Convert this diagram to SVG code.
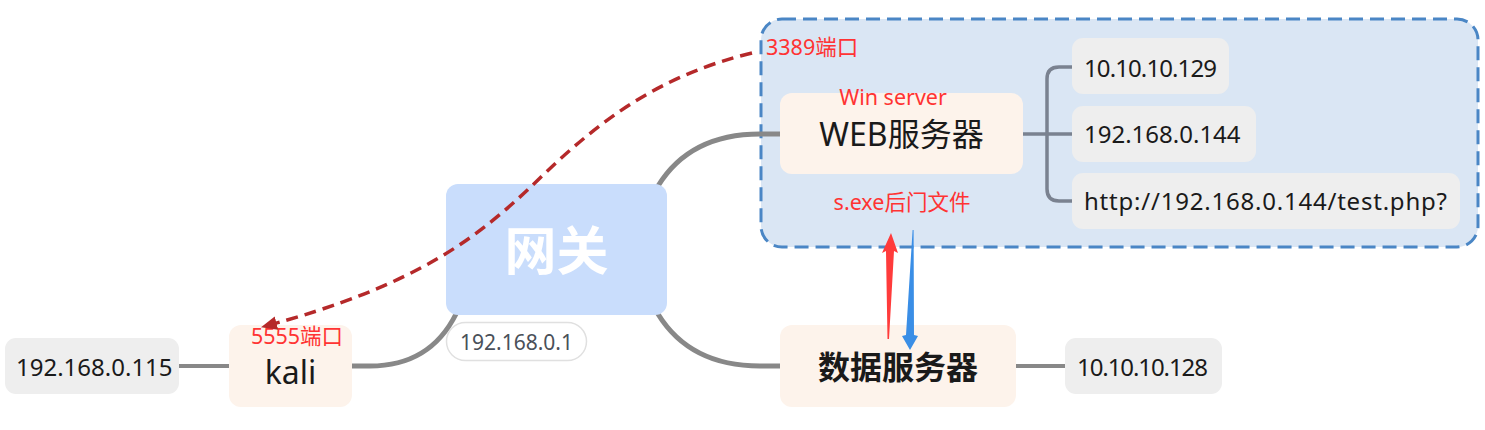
<svg xmlns="http://www.w3.org/2000/svg" width="1485" height="430" viewBox="0 0 1485 430">
<defs>
<style>
.t{font-family:"Noto Sans","Noto Sans CJK SC",sans-serif;}
.leaf{fill:#eeeeee;}
.main{fill:#fdf3eb;}
.lt{font-size:24px;fill:#1a1a1a;}
.mt{font-size:32px;fill:#1a1a1a;}
.red{font-size:21.5px;fill:#ff3333;}
.conn{fill:none;stroke:#888888;stroke-linecap:round;}
</style>
<marker id="ah" markerUnits="userSpaceOnUse" markerWidth="18" markerHeight="14" refX="15" refY="7" orient="auto">
<path d="M0,0 L16,7 L0,14 Z" fill="#b5292a"/>
</marker>
</defs>
<rect width="1485" height="430" fill="#ffffff"/>

<g id="group-web">
<rect x="761" y="19" width="717" height="228" rx="21" fill="#dae6f4" stroke="#4a86c5" stroke-width="3" stroke-dasharray="14 7"/>
</g>

<g id="connectors">
<path class="conn" stroke-width="5" d="M658,186 Q690,134 760,134 L780,134"/>
<path class="conn" stroke-width="5" d="M658,314 Q690,366 760,366 L780,366"/>
<path class="conn" stroke-width="5" d="M456,314 Q430,366 370,366 L352,366"/>
<path class="conn" stroke-width="4" d="M179,366 L229,366"/>
<path class="conn" stroke-width="4" d="M1016,366 L1065,366"/>
<path fill="none" stroke="#7a8290" stroke-width="3.5" d="M1023,134 L1072,134 M1072,67 L1059,67 Q1047,67 1047,79 L1047,189 Q1047,201 1059,201 L1072,201"/>
</g>

<g id="node-gateway">
<rect x="446" y="184" width="221" height="131" rx="12" fill="#c9ddfc"/>
<text class="t" x="556.5" y="270" text-anchor="middle" font-size="52" font-weight="bold" fill="#ffffff">网关</text>
</g>
<g id="label-gateway">
<rect x="446.5" y="322.5" width="140" height="38" rx="19" fill="#ffffff" stroke="#e0e0e0" stroke-width="1.5"/>
<text class="t" x="516.5" y="350" text-anchor="middle" font-size="21" fill="#4a5059">192.168.0.1</text>
</g>

<g id="node-web">
<rect class="main" x="780" y="93" width="243" height="81" rx="12"/>
<text class="t red" x="893" y="105" text-anchor="middle">Win server</text>
<text class="t mt" x="901.5" y="146" text-anchor="middle" font-size="33.5">WEB服务器</text>
</g>
<text class="t red" x="766" y="55">3389端口</text>
<text class="t red" x="902" y="210" text-anchor="middle">s.exe后门文件</text>

<g id="node-ip129">
<rect class="leaf" x="1072" y="38" width="157" height="56" rx="11"/>
<text class="t lt" x="1084" y="77" textLength="133" lengthAdjust="spacing">10.10.10.129</text>
</g>
<g id="node-ip144">
<rect class="leaf" x="1072" y="106" width="184" height="56" rx="11"/>
<text class="t lt" x="1084" y="143">192.168.0.144</text>
</g>
<g id="node-url">
<rect class="leaf" x="1072" y="173" width="388" height="56" rx="11"/>
<text class="t lt" x="1084" y="210" textLength="363" lengthAdjust="spacing">http://192.168.0.144/test.php?</text>
</g>

<g id="node-data">
<rect class="main" x="780" y="325" width="236" height="82" rx="12"/>
<text class="t mt" x="898" y="379" text-anchor="middle" font-weight="bold">数据服务器</text>
</g>
<g id="node-ip128">
<rect class="leaf" x="1065" y="338" width="157" height="56" rx="11"/>
<text class="t lt" x="1077" y="376" textLength="131" lengthAdjust="spacing">10.10.10.128</text>
</g>

<g id="node-kali">
<rect class="main" x="229" y="325" width="123" height="82" rx="12"/>
<text class="t red" x="297" y="344" text-anchor="middle" font-size="21">5555端口</text>
<text class="t mt" x="290.5" y="384" text-anchor="middle">kali</text>
</g>
<g id="node-ip115">
<rect class="leaf" x="5" y="338" width="174" height="56" rx="11"/>
<text class="t lt" x="16" y="376">192.168.0.115</text>
</g>

<g id="links">
<path fill="none" stroke="#b5292a" stroke-width="3.5" stroke-dasharray="12 7" marker-end="url(#ah)" d="M752,53 C660,75 600,120 540,178 C480,236 420,285 262,327"/>
<polygon fill="#ff3b3b" points="887.5,339 889,339 894,251 898,253 891,233 882,253 886,251"/>
<polygon fill="#3a8ee6" points="912.6,230 913.6,230 914,335 918,336 910,350 902,336 906,335"/>
</g>
</svg>
